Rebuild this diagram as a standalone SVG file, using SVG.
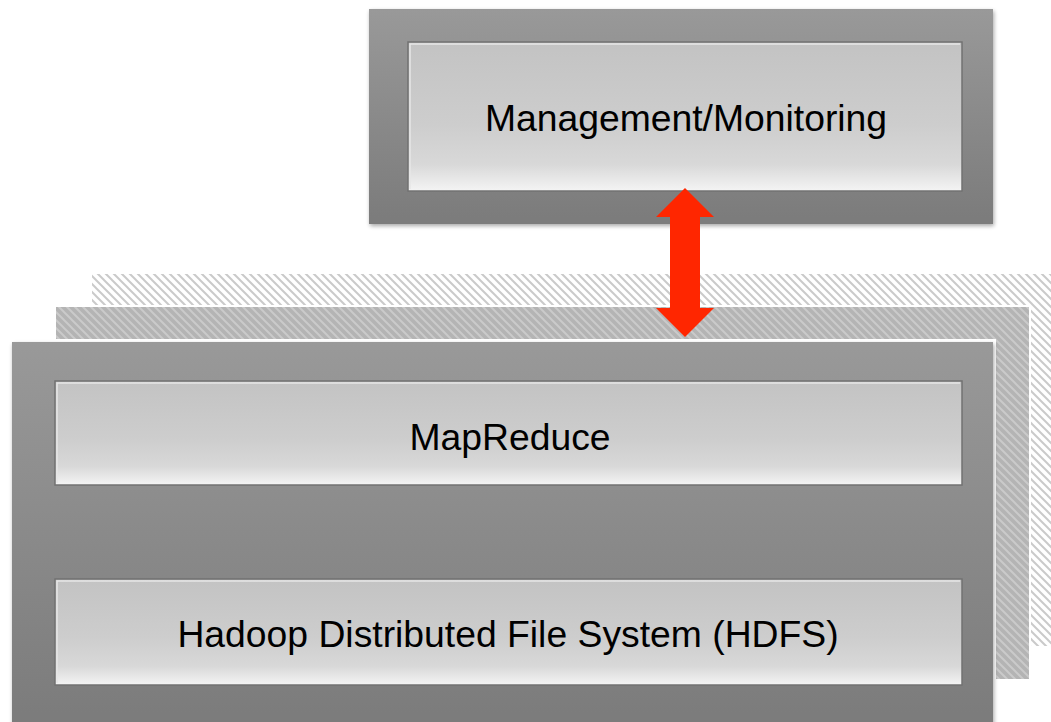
<svg xmlns="http://www.w3.org/2000/svg" width="1051" height="722" viewBox="0 0 1051 722">
  <defs>
    <linearGradient id="frameGrad" x1="0" y1="0" x2="0" y2="1">
      <stop offset="0" stop-color="#999999"/>
      <stop offset="1" stop-color="#7b7b7b"/>
    </linearGradient>
    <linearGradient id="panelGrad" x1="0" y1="0" x2="0" y2="1">
      <stop offset="0" stop-color="#c3c3c3"/>
      <stop offset="0.55" stop-color="#cdcdcd"/>
      <stop offset="0.82" stop-color="#d8d8d8"/>
      <stop offset="1" stop-color="#f4f4f4"/>
    </linearGradient>
    <pattern id="hatchLight" width="8" height="8" patternUnits="userSpaceOnUse">
      <rect width="8" height="8" fill="#ffffff"/>
      <path d="M-2,-2 L10,10 M-2,6 L2,10 M6,-2 L10,2" stroke="#cacaca" stroke-width="2"/>
    </pattern>
    <pattern id="hatchDark" width="8" height="8" patternUnits="userSpaceOnUse">
      <rect width="8" height="8" fill="#b4b4b4"/>
      <path d="M-2,-2 L10,10 M-2,6 L2,10 M6,-2 L10,2" stroke="#cacaca" stroke-width="2"/>
    </pattern>
    <filter id="shadow" x="-5%" y="-5%" width="110%" height="115%">
      <feGaussianBlur in="SourceAlpha" stdDeviation="2"/>
      <feOffset dx="1" dy="2" result="b"/>
      <feComponentTransfer><feFuncA type="linear" slope="0.35"/></feComponentTransfer>
      <feMerge><feMergeNode/><feMergeNode in="SourceGraphic"/></feMerge>
    </filter>
  </defs>
  <style>
    .frame { fill: url(#frameGrad); }
    .panel { fill: url(#panelGrad); stroke: #727272; stroke-width: 1.5; }
    .panelHi { fill: none; stroke: #e6e6e6; stroke-width: 1.5; }
    .label { font-family: "Liberation Sans", Arial, sans-serif; font-size: 37.3px; fill: #000000; text-anchor: middle; }
  </style>

  <rect width="1051" height="722" fill="#ffffff"/>

  <!-- stacked cluster layers behind the main stack -->
  <g id="layer-back">
    <rect x="92" y="274" width="962" height="372" fill="url(#hatchLight)"/>
  </g>
  <g id="layer-middle">
    <rect x="54" y="305" width="977" height="376" fill="#ffffff"/>
    <rect x="56" y="307" width="973" height="372" fill="url(#hatchDark)"/>
  </g>

  <!-- management node -->
  <g id="management">
    <rect class="frame" x="369" y="9" width="624" height="215" filter="url(#shadow)"/>
    <rect class="panel" x="408" y="42" width="554" height="149"/>
    <path class="panelHi" d="M410,189 L410,44 L960,44"/>
    <text class="label" x="686" y="131">Management/Monitoring</text>
  </g>

  <!-- main stack: MapReduce over HDFS -->
  <g id="hadoop-stack">
    <rect x="9" y="339" width="987" height="390" fill="#ffffff"/>
    <rect class="frame" x="12" y="342" width="981" height="385" filter="url(#shadow)"/>
  </g>
  <g id="mapreduce">
    <rect class="panel" x="55" y="381" width="907" height="104"/>
    <path class="panelHi" d="M57,483 L57,383 L960,383"/>
    <text class="label" x="510" y="450">MapReduce</text>
  </g>
  <g id="hdfs">
    <rect class="panel" x="55" y="579" width="907" height="106"/>
    <path class="panelHi" d="M57,683 L57,581 L960,581"/>
    <text class="label" x="508" y="647">Hadoop Distributed File System (HDFS)</text>
  </g>

  <!-- connectors -->
  <g id="connectors">
    <path d="M685,188 L714,217 L700,217 L700,308 L714,308 L685,337 L656,308 L670,308 L670,217 L656,217 Z" fill="#ff2600"/>
  </g>
</svg>
